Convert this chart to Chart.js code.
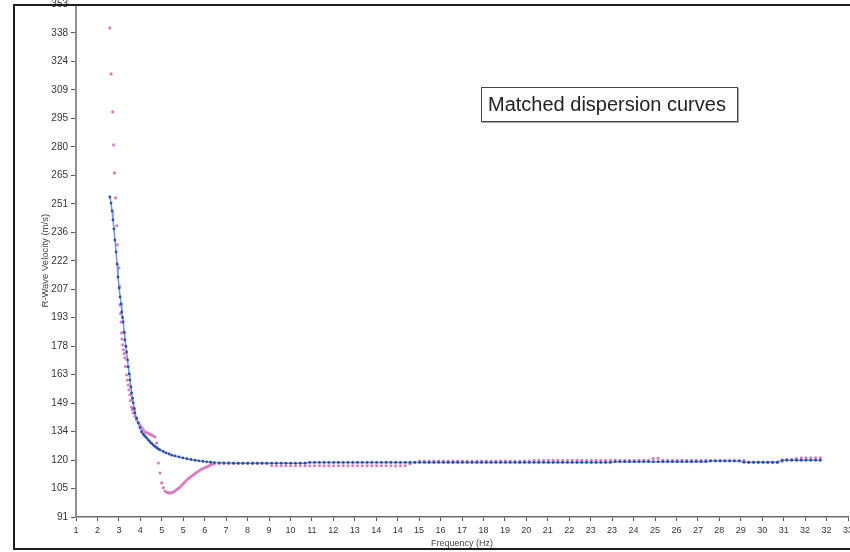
<!DOCTYPE html>
<html><head><meta charset="utf-8">
<script src="https://cdn.jsdelivr.net/npm/chart.js@4.4.1/dist/chart.umd.min.js"></script>
<style>
html,body{margin:0;padding:0;background:#fff;}
#wrap{position:relative;width:850px;height:552px;overflow:hidden;background:#fff;}
#c{position:absolute;left:0;top:0;}
#frame{position:absolute;left:13px;top:4px;width:1000px;height:546px;box-sizing:border-box;border:2px solid #1c1c1c;pointer-events:none;}
#note{position:absolute;left:481px;top:87px;width:257px;height:35px;box-sizing:border-box;border:1px solid #444;box-shadow:1px 1px 0 #aaa;background:#fff;font:20px "Liberation Sans",Arial,sans-serif;color:#222;line-height:33px;padding-left:6px;white-space:nowrap;}
</style></head>
<body><div id="wrap"><canvas id="c" width="872" height="552"></canvas><div id="frame"></div><div id="note">Matched dispersion curves</div></div>
<script>
const xTickLabels = ['1','2','3','4','5','5','6','7','8','9','10','11','12','13','14','14','15','16','17','18','19','20','21','22','23','23','24','25','26','27','28','29','30','31','32','32','33'];
const yTickLabels = ['91','105','120','134','149','163','178','193','207','222','236','251','265','280','295','309','324','338','353'];
const xMin = 1, xMax = 33.36, yMin = 91, yMax = 353;

const blueSteepFreq = [2.42,2.47,2.51,2.55,2.59,2.63,2.68,2.72,2.76,2.81,
  2.85,2.89,2.92,2.95,2.98,3.02,3.05,3.09,3.12,3.16,
  3.19,3.23,3.26,3.30,3.33,3.37,3.40,3.44,3.47,3.54,
  3.61,3.68,3.75,3.82,3.89,3.96,4.03,4.10,4.17,4.24,
  4.31,4.38,4.45,4.52,4.65,4.77,4.90,5.02,5.15,5.32,
  5.48,5.65,5.82,5.99,6.15,6.32,6.48,6.64];
const blueSteepVel = [254.6,251.5,247.5,242.9,238.3,232.6,226.5,220.4,213.7,208.1,
  203.5,200.0,195.8,193.0,190.7,185.5,181.5,178.3,175.4,171.3,
  167.7,164.2,161.0,157.5,154.4,151.7,149.3,146.5,144.2,141.5,
  139.1,136.7,134.5,133.3,132.3,131.4,130.4,129.5,128.6,127.8,
  127.1,126.4,125.8,125.3,124.5,123.8,123.2,122.6,122.2,121.7,
  121.2,120.8,120.4,120.0,119.7,119.5,119.2,119.0];

const pinkSteepFreq = [2.42,2.47,2.54,2.58,2.61,2.66,2.71,2.73,2.80,2.82,
  2.84,2.87,2.89,2.91,2.93,2.96,2.99,3.02,3.05,3.08,
  3.12,3.15,3.19,3.22,3.26,3.29,3.33,3.36,3.40,3.47,
  3.54,3.61,3.68,3.75,3.82,3.89,3.96,4.03,4.10,4.17,
  4.24,4.31,4.38,4.45,4.52,4.59,4.66,4.73,4.80,4.87,
  4.94,5.01,5.08,5.15,5.22,5.29,5.36,5.43,5.50,5.57,
  5.64,5.71,5.78,5.85,5.92,5.99,6.06,6.13,6.20,6.27,
  6.34,6.41,6.48,6.55,6.62,6.69];
const pinkSteepVel = [341.0,317.5,298.1,281.2,266.9,254.1,239.9,230.1,218.3,209.0,
  199.4,195.0,190.7,185.1,182.0,179.0,176.5,174.5,172.3,168.0,
  163.6,161.0,158.5,156.0,153.4,150.5,147.2,146.0,144.2,142.5,
  140.6,139.2,138.0,136.8,135.6,134.5,134.1,133.8,133.4,133.0,
  132.5,131.9,128.8,118.6,113.5,108.4,106.0,104.3,103.6,103.3,
  103.3,103.5,103.8,104.3,105.0,105.6,106.3,107.2,108.1,109.0,
  109.9,110.6,111.3,111.9,112.5,113.2,113.8,114.4,115.0,115.5,
  115.9,116.3,116.6,117.0,117.5,117.8];

const flatFreq = [6.8,7,7.2,7.4,7.6,7.8,8,8.2,8.4,8.6,
  8.8,9,9.2,9.4,9.6,9.8,10,10.2,10.4,10.6,
  10.8,11,11.2,11.4,11.6,11.8,12,12.2,12.4,12.6,
  12.8,13,13.2,13.4,13.6,13.8,14,14.2,14.4,14.6,
  14.8,15,15.2,15.4,15.6,15.8,16,16.2,16.4,16.6,
  16.8,17,17.2,17.4,17.6,17.8,18,18.2,18.4,18.6,
  18.8,19,19.2,19.4,19.6,19.8,20,20.2,20.4,20.6,
  20.8,21,21.2,21.4,21.6,21.8,22,22.2,22.4,22.6,
  22.8,23,23.2,23.4,23.6,23.8,24,24.2,24.4,24.6,
  24.8,25,25.2,25.4,25.6,25.8,26,26.2,26.4,26.6,
  26.8,27,27.2,27.4,27.6,27.8,28,28.2,28.4,28.6,
  28.8,29,29.2,29.4,29.6,29.8,30,30.2,30.4,30.6,
  30.8,31,31.2,31.4,31.6,31.8,32,32.2];
const blueFlatVel = [118.8,118.7,118.6,118.6,118.5,118.5,118.5,118.5,118.5,118.5,
  118.5,118.5,118.5,118.5,118.5,118.5,118.5,118.5,118.5,118.5,
  118.9,118.9,118.9,118.9,118.9,118.9,118.9,118.9,118.9,118.9,
  118.9,118.9,118.9,118.9,118.9,118.9,118.9,118.9,118.9,118.9,
  118.9,118.9,118.9,118.9,118.9,118.9,118.9,118.9,118.9,118.9,
  118.9,118.9,118.9,118.9,118.9,118.9,118.9,118.9,118.9,118.9,
  118.9,118.9,118.9,118.9,118.9,118.9,118.9,118.9,118.9,118.9,
  118.9,118.9,118.9,118.9,118.9,118.9,118.9,118.9,118.9,118.9,
  118.9,118.9,118.9,118.9,119.3,119.3,119.3,119.3,119.3,119.3,
  119.3,119.3,119.3,119.3,119.3,119.3,119.3,119.3,119.3,119.3,
  119.3,119.3,119.3,119.3,119.6,119.6,119.6,119.6,119.6,119.6,
  119.6,119.0,119.0,119.0,119.0,119.0,119.0,119.0,119.0,120.0,
  120.0,120.0,120.0,120.0,120.0,120.0,120.0,120.0];
const pinkFlatVel = [118.2,118.3,118.4,118.4,118.4,118.4,118.4,118.4,118.4,118.4,
  118.4,118.4,117.2,117.2,117.2,117.2,117.2,117.2,117.2,117.2,
  117.2,117.2,117.2,117.2,117.2,117.2,117.2,117.2,117.2,117.2,
  117.2,117.2,117.2,117.2,117.2,117.2,117.2,117.2,117.2,117.2,
  117.2,118.2,119.0,119.6,119.6,119.6,119.6,119.6,119.6,119.6,
  119.6,119.6,119.6,119.6,119.6,119.6,119.6,119.6,119.6,119.6,
  119.6,119.6,119.6,119.6,119.6,119.6,119.6,119.9,119.9,119.9,
  119.9,119.9,119.9,119.9,119.9,119.9,119.9,119.9,119.9,119.9,
  119.9,119.9,119.9,119.9,119.9,119.9,119.9,119.9,119.9,119.9,
  119.9,119.9,120.9,121.0,119.9,119.9,119.9,119.9,119.9,119.9,
  119.9,119.9,119.9,119.9,119.9,119.9,119.9,119.9,119.9,119.9,
  119.9,119.9,118.9,118.9,118.9,118.9,118.9,118.9,118.9,119.5,
  120.3,120.5,120.8,121.2,121.2,121.2,121.2,121.2];

function pts(freqs, vels) { return freqs.map((f, i) => ({ x: f, y: vels[i] })); }
const blueData = pts(blueSteepFreq.concat(flatFreq), blueSteepVel.concat(blueFlatVel));
const pinkData = pts(pinkSteepFreq.concat(flatFreq), pinkSteepVel.concat(pinkFlatVel));

const tickFont = { family: 'Liberation Sans', size: 9 };
new Chart(document.getElementById('c'), {
  type: 'scatter',
  data: {
    datasets: [
      { label: 'Model', data: blueData, showLine: true, borderColor: '#7297dc', borderWidth: 1.5,
        pointRadius: 1.4, pointBackgroundColor: '#2a4dab', pointBorderWidth: 0, pointHoverRadius: 0 },
      { label: 'Measured', data: pinkData, showLine: false,
        pointRadius: 1.6, pointBackgroundColor: '#d97cc3', pointBorderWidth: 0, pointHoverRadius: 0 }
    ]
  },
  options: {
    responsive: false, animation: false, devicePixelRatio: 1,
    layout: { padding: { left: 0, right: 24, top: 4.5, bottom: 0 } },
    plugins: { legend: { display: false }, tooltip: { enabled: false } },
    scales: {
      x: {
        type: 'linear', min: xMin, max: xMax,
        afterBuildTicks: s => { const n = xTickLabels.length - 1; s.ticks = xTickLabels.map((_, i) => ({ value: xMin + i * (xMax - xMin) / n })); },
        afterFit: s => { s.height = 35; s.paddingLeft = 0; s.paddingRight = 0; },
        ticks: { autoSkip: false, maxRotation: 0, minRotation: 0, padding: 4, font: tickFont, color: '#333',
          callback: (v, i) => xTickLabels[i] },
        grid: { drawOnChartArea: false, drawTicks: true, tickLength: 4, color: '#555' },
        border: { display: true, color: '#6a6a6a', width: 1.5 },
        title: { display: true, text: 'Frequency (Hz)', font: { family: 'Liberation Sans', size: 9 }, color: '#444', padding: { top: 0, bottom: 3 } }
      },
      y: {
        type: 'linear', min: yMin, max: yMax,
        afterBuildTicks: s => { const n = yTickLabels.length - 1; s.ticks = yTickLabels.map((_, i) => ({ value: yMin + i * (yMax - yMin) / n })); },
        afterFit: s => { s.width = 76; s.paddingTop = 0; s.paddingBottom = 0; },
        ticks: { autoSkip: false, padding: 3, font: { family: 'Liberation Sans', size: 10 }, color: '#333',
          callback: (v, i) => yTickLabels[i] },
        grid: { drawOnChartArea: false, drawTicks: true, tickLength: 5, color: '#555' },
        border: { display: true, color: '#8f8f8f', width: 2 },
        title: { display: true, text: 'R-Wave Velocity (m/s)', font: { family: 'Liberation Sans', size: 9.5 }, color: '#444', padding: { top: 39.3, bottom: 0 } }
      }
    }
  }
});
</script>
</body></html>
